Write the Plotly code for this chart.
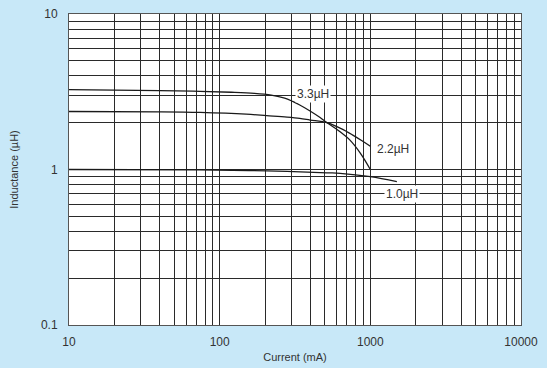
import math
import plotly.graph_objects as go

# Data
current_33 = [10, 40, 74, 120, 170, 220, 270, 305, 340, 398, 464, 516, 620, 730, 860, 1000]
induct_33 = [3.26, 3.22, 3.18, 3.14, 3.09, 3.01, 2.88, 2.74, 2.60, 2.38, 2.16, 2.0, 1.77, 1.55, 1.27, 1.0]

current_22 = [10, 40, 74, 150, 205, 280, 340, 398, 516, 640, 760, 880, 1000]
induct_22 = [2.36, 2.35, 2.33, 2.27, 2.22, 2.17, 2.13, 2.08, 2.0, 1.83, 1.67, 1.53, 1.41]

current_10 = [10, 74, 205, 516, 630, 1000, 1500]
induct_10 = [1.0, 0.995, 0.98, 0.952, 0.945, 0.90, 0.837]

series_labels = ["3.3µH", "2.2µH", "1.0µH"]
label_pos_x = [416, 1413, 1622]
label_pos_y = [3.07, 1.36, 0.697]

x_major = [10, 100, 1000, 10000]
x_major_text = ["10", "100", "1000", "10000"]
y_major = [0.1, 1, 10]
y_major_text = ["0.1", "1", "10"]

def all_ticks(majors):
    vals = []
    for i, m in enumerate(majors):
        if i == len(majors) - 1:
            vals.append(m)
            break
        for k in range(1, 10):
            vals.append(m * k)
    return vals

xv = all_ticks(x_major)
yv = all_ticks(y_major)
xt = [x_major_text[x_major.index(v)] if v in x_major else "" for v in xv]
yt = [y_major_text[y_major.index(v)] if v in y_major else "" for v in yv]

FONT = "Liberation Sans, Arial, sans-serif"
line_style = dict(color="#1a1a1a", width=1.3, shape="spline", smoothing=1.0)

fig = go.Figure()
for cx, cy in [(current_33, induct_33), (current_22, induct_22), (current_10, induct_10)]:
    fig.add_trace(go.Scatter(x=cx, y=cy, mode="lines", line=line_style,
                             showlegend=False, hoverinfo="skip"))

for lbl, lx, ly in zip(series_labels, label_pos_x, label_pos_y):
    fig.add_annotation(x=math.log10(lx), y=math.log10(ly), xref="x", yref="y",
                       text=lbl, showarrow=False, bgcolor="white",
                       font=dict(size=12, color="#333333", family=FONT), borderpad=1)

axis_common = dict(
    type="log", showgrid=True, gridcolor="#2a2a2a", gridwidth=1,
    showline=True, linecolor="#555555", linewidth=1, mirror=True,
    ticks="", zeroline=False, automargin=False,
    tickfont=dict(size=12, color="#333333", family=FONT),
)

fig.update_xaxes(**axis_common, range=[1, 4], tickmode="array", tickvals=xv, ticktext=xt,
                 ticklabelstandoff=6,
                 title=dict(text="Current (mA)", standoff=4,
                            font=dict(size=11, color="#333333", family=FONT)))
fig.update_yaxes(**axis_common, range=[-1, 1], tickmode="array", tickvals=yv, ticktext=yt,
                 ticklabelstandoff=8,
                 title=dict(text="Inductance (µH)", standoff=20,
                            font=dict(size=11, color="#333333", family=FONT)))

fig.update_layout(
    width=547, height=368,
    margin=dict(l=69, r=26, t=14, b=43),
    paper_bgcolor="#c8e8f8", plot_bgcolor="white",
)

fig.write_html(
    "out.html",
    config={"displayModeBar": False},
    post_script="document.body.style.margin='0';document.body.style.background='#c8e8f8';",
)
